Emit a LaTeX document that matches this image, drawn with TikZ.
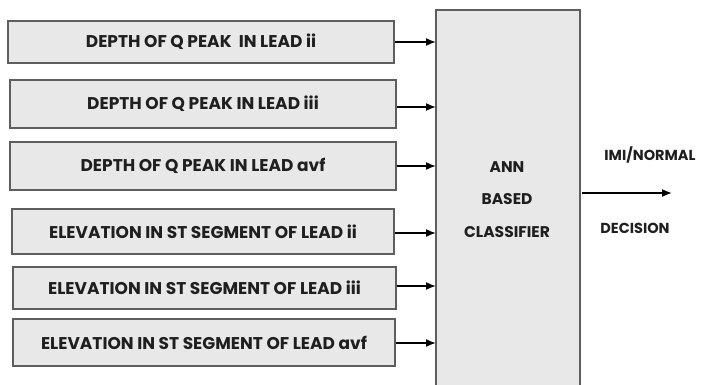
\documentclass[tikz,border=0pt]{standalone}
\usepackage{fontspec}
\setmainfont{Poppins}[UprightFont=* Bold, BoldFont=* Bold]
\usetikzlibrary{arrows.meta}
\definecolor{boxfill}{HTML}{E8E8E8}
\definecolor{boxline}{HTML}{5E5E5E}
\tikzset{
  feature/.style={draw=boxline, line width=1.6pt, fill=boxfill,
    inner sep=0pt, font=\fontsize{17}{19}\selectfont, text=black!88},
  feed/.style={-{Latex[length=10pt,width=8pt]}, line width=1.6pt, black},
  plain/.style={font=\fontsize{15.5}{18}\selectfont, text=black!88, inner sep=0pt}
}
\begin{document}
\begin{tikzpicture}[x=1pt,y=-1pt]
\clip (0,0) rectangle (704,385);
\fill[white] (0,0) rectangle (704,385);
% classifier block, running past the lower edge
\draw[boxline, line width=1.6pt, fill=boxfill] (436,10) rectangle (580,400);
\node[plain] (ann) at (507,167) {ANN};
\node[plain] (based) at (507,199) {BASED};
\node[plain] (clf) at (507,232) {CLASSIFIER};
% input features: name / centre x / centre y / width / height / text
\foreach \n/\cx/\cy/\w/\h/\t in {
  f1/201/42/386/42/{DEPTH OF Q PEAK\ \ IN LEAD ii},
  f2/203/104/386/48/{DEPTH OF Q PEAK IN LEAD iii},
  f3/203/166/386/48/{DEPTH OF Q PEAK IN LEAD avf},
  f4/203/231.5/382/45/{ELEVATION IN ST SEGMENT OF LEAD ii},
  f5/204.5/288/383/42/{ELEVATION IN ST SEGMENT OF LEAD iii},
  f6/204/342.5/382/47/{ELEVATION IN ST SEGMENT OF LEAD avf}}{
  \node[feature, minimum width=\w pt, minimum height=\h pt] (\n) at (\cx,\cy) {\t};
}
\foreach \i/\y in {1/42,2/107,3/166,4/233,5/286,6/343}{
  \coordinate (t\i) at (436,\y);
  \draw[feed] (f\i.east |- t\i) -- (t\i);
}
% output
\coordinate (os) at (582,193);
\coordinate (oe) at (672,193);
\draw[feed] (os) -- (oe);
\node[plain, font=\fontsize{14.5}{17}\selectfont] (imi) at (650,155) {IMI/NORMAL};
\node[plain, font=\fontsize{14.5}{17}\selectfont] (dec) at (635,228) {DECISION};
\end{tikzpicture}
\end{document}
